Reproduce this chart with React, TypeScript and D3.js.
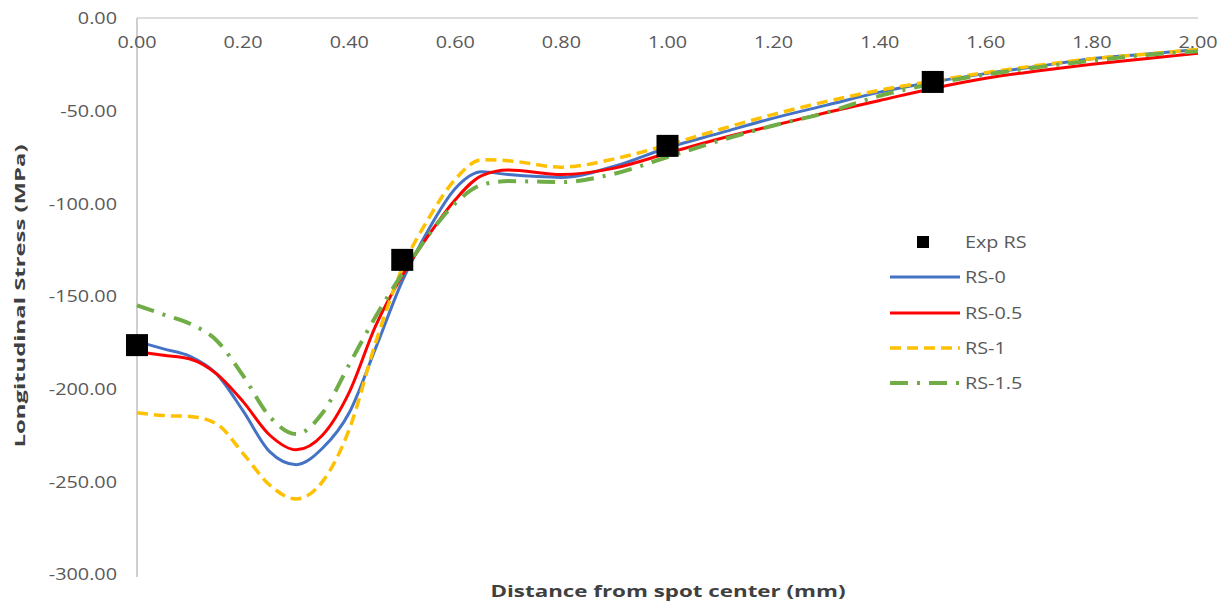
import React from "react";
import * as d3 from "d3";

const xs = [0, 0.05, 0.1, 0.15, 0.2, 0.25, 0.3, 0.35, 0.4, 0.45, 0.5, 0.55, 0.6, 0.65, 0.7, 0.8, 0.9, 1.0, 1.1, 1.2, 1.3, 1.4, 1.5, 1.6, 1.7, 1.8, 1.9, 2.0];

const rs0 = [-174.5, -178.5, -182.5, -192, -212, -234, -241, -232, -213, -178, -142, -114, -92, -83, -84.5, -86, -80, -70, -62, -54, -47, -40, -34.5, -30, -26, -22, -19.5, -17];
const rs05 = [-180, -182, -184, -192, -207, -225, -233, -225, -202, -166, -139, -117, -98, -85, -82, -84.5, -81, -73, -65, -58, -51, -44.5, -38, -32.5, -28.5, -25, -22, -19];
const rs1 = [-213, -214.5, -215, -219, -235, -252, -259.5, -250, -222, -175, -135, -108, -87, -76.5, -77, -80.5, -76, -68.5, -60, -52, -45, -39, -34, -29.5, -25.5, -22, -19.5, -17];
const rs15 = [-155, -160, -165, -174, -193, -215, -224.5, -213, -187, -161, -138, -117, -100, -90, -88, -88.5, -84, -75, -66, -58, -51, -42, -35.5, -30.5, -26.5, -23, -20, -18];

const expX = [0, 0.5, 1.0, 1.5];
const expY = [-176.5, -130.5, -69, -34.5];

const xTicks = [0, 0.2, 0.4, 0.6, 0.8, 1.0, 1.2, 1.4, 1.6, 1.8, 2.0];
const yTicks = [0, -50, -100, -150, -200, -250, -300];

const seriesNames = ["RS-0", "RS-0.5", "RS-1", "RS-1.5"];
const seriesColors = ["#4472C4", "#FF0000", "#FFC000", "#70AD47"];
const seriesDash = ["", "", "11,6", "18,9,3,9"];
const seriesWidth = [3, 3, 3.5, 4];
const seriesData = [rs0, rs05, rs1, rs15];

export default function App() {
  const W = 1231, H = 604;
  const x = d3.scaleLinear().domain([0, 2]).range([137, 1198]);
  const y = d3.scaleLinear().domain([0, -300]).range([18, 574]);
  const line = d3
    .line<number>()
    .x((_, i) => x(xs[i]))
    .y((d) => y(d))
    .curve(d3.curveMonotoneX);
  const font = "'Open Sans', sans-serif";
  const tickColor = "#595959";
  const legendX = 890;
  const legendRows = [242, 277, 313, 348, 383];

  return (
    <svg width={W} height={H} style={{ position: "absolute", left: 0, top: 0, background: "#fff" }}>
      <rect x={0} y={0} width={W} height={H} fill="#fff" />
      {/* axes */}
      <line x1={x(0)} x2={x(2)} y1={y(0)} y2={y(0)} stroke="#d0d0d0" strokeWidth={1.5} />
      <line x1={x(0)} x2={x(0)} y1={y(0)} y2={577} stroke="#bfbfbf" strokeWidth={1.5} />
      {/* y tick labels */}
      {yTicks.map((t) => (
        <text
          key={"y" + t}
          transform={`translate(117,${y(t)}) scale(1.2,1)`}
          textAnchor="end"
          dominantBaseline="central"
          fontFamily={font}
          fontSize={16.5}
          fill={tickColor}
        >
          {t.toFixed(2)}
        </text>
      ))}
      {/* x tick labels */}
      {xTicks.map((t) => (
        <text
          key={"x" + t}
          transform={`translate(${x(t)},42) scale(1.2,1)`}
          textAnchor="middle"
          dominantBaseline="central"
          fontFamily={font}
          fontSize={16.5}
          fill={tickColor}
        >
          {t.toFixed(2)}
        </text>
      ))}
      {/* series */}
      {seriesData.map((d, i) => (
        <path
          key={seriesNames[i]}
          d={line(d) || ""}
          fill="none"
          stroke={seriesColors[i]}
          strokeWidth={seriesWidth[i]}
          strokeDasharray={seriesDash[i] || undefined}
          strokeLinejoin="round"
        />
      ))}
      {/* exp markers */}
      {expX.map((v, i) => (
        <rect key={"e" + i} x={x(v) - 11} y={y(expY[i]) - 11} width={22} height={22} fill="#000" />
      ))}
      {/* legend */}
      <rect x={917} y={legendRows[0] - 6} width={12} height={12} fill="#000" />
      <text
        transform={`translate(965,${legendRows[0]}) scale(1.2,1)`}
        dominantBaseline="central"
        fontFamily={font}
        fontSize={16.5}
        fill={tickColor}
      >
        Exp RS
      </text>
      {seriesNames.map((n, i) => (
        <g key={"l" + n}>
          <line
            x1={legendX}
            x2={legendX + 70}
            y1={legendRows[i + 1]}
            y2={legendRows[i + 1]}
            stroke={seriesColors[i]}
            strokeWidth={seriesWidth[i]}
            strokeDasharray={seriesDash[i] || undefined}
          />
          <text
            transform={`translate(965,${legendRows[i + 1]}) scale(1.2,1)`}
            dominantBaseline="central"
            fontFamily={font}
            fontSize={16.5}
            fill={tickColor}
          >
            {n}
          </text>
        </g>
      ))}
      {/* axis titles */}
      <text
        x={668}
        y={591}
        textAnchor="middle"
        dominantBaseline="central"
        fontFamily={font}
        fontWeight="bold"
        fontSize={16}
        fill="#404040"
        textLength={355}
        lengthAdjust="spacingAndGlyphs"
      >
        Distance from spot center (mm)
      </text>
      <text
        transform="translate(19,296) rotate(-90)"
        textAnchor="middle"
        dominantBaseline="central"
        fontFamily={font}
        fontWeight="bold"
        fontSize={15}
        fill="#404040"
        textLength={303}
        lengthAdjust="spacingAndGlyphs"
      >
        Longitudinal Stress (MPa)
      </text>
    </svg>
  );
}
